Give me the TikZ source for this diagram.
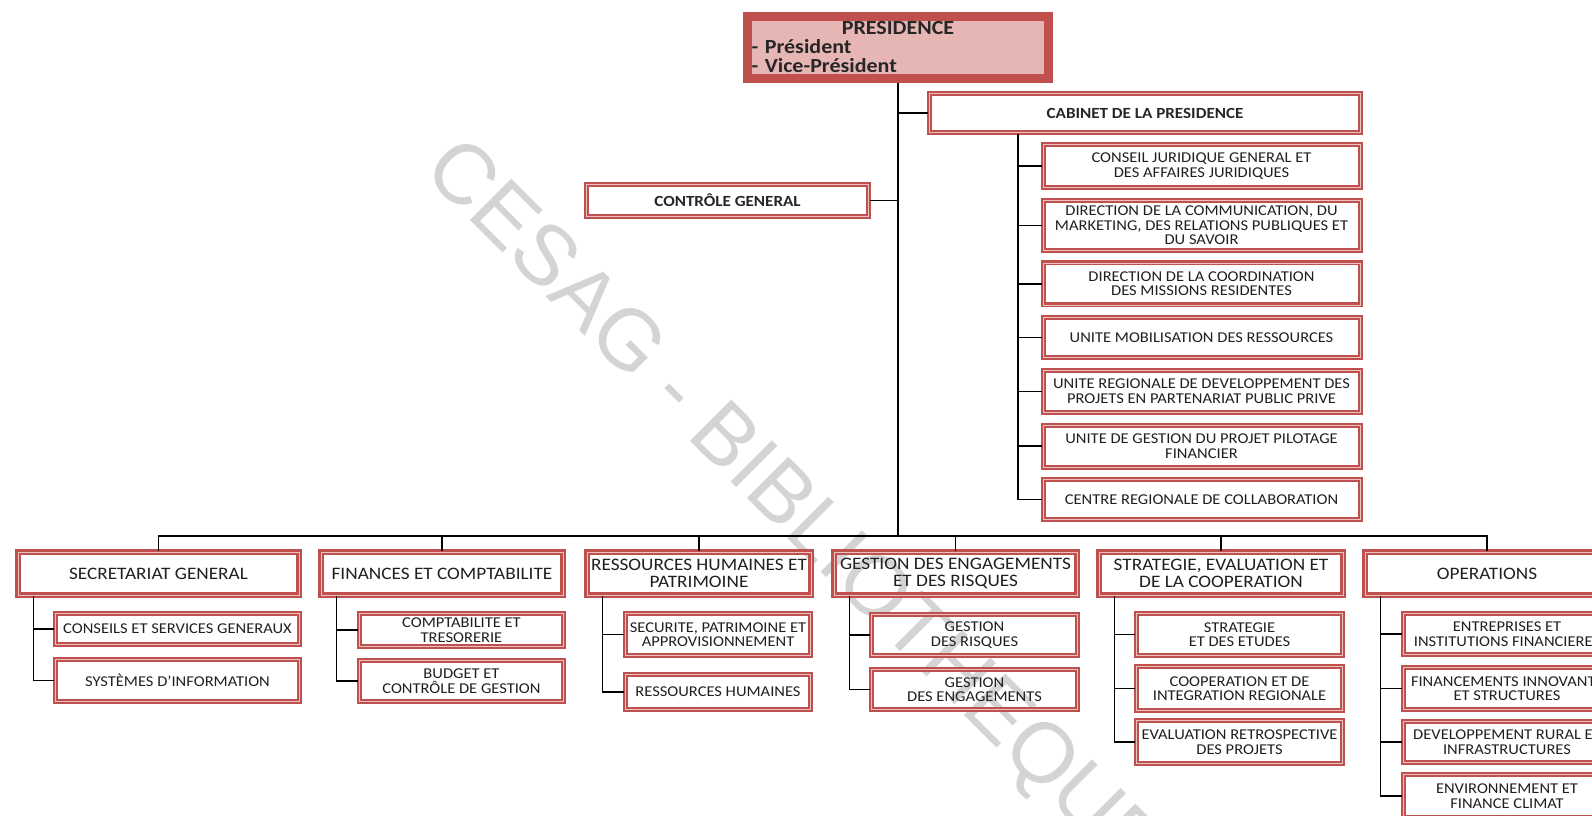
\documentclass[tikz,border=0pt]{standalone}
\usepackage{fontspec}
\setmainfont[FakeStretch=1.1]{Carlito}
\newfontfamily\wmfont{Liberation Sans}
\usetikzlibrary{positioning}
\definecolor{bred}{RGB}{192,80,77}
\definecolor{bpink}{RGB}{230,182,180}
\definecolor{wgray}{RGB}{212,212,212}

\begin{document}
\begin{tikzpicture}[x=1pt, y=-1pt,
  node distance=10.5pt,
  head/.style={draw=bred, line width=9pt, fill=bpink, inner sep=4pt, text width=293pt, align=left, minimum width=301pt, minimum height=62pt, font=\bfseries\fontsize{20}{19}\selectfont, text=black!85},
  title/.style={draw=bred, line width=2.2pt, double=bred!35!white, double distance=0.6pt, align=center, inner sep=2pt, font=\bfseries\fontsize{15.5}{15}\selectfont, text=black!85},
  unit/.style={draw=bred, line width=2.9pt, double=bred!35!white, double distance=0.6pt, align=center, inner sep=2pt, minimum height=43pt, font=\fontsize{17.5}{17}\selectfont, text=black!88},
  sub/.style={draw=bred, line width=2.2pt, double=bred!35!white, double distance=0.6pt, align=center, inner sep=2pt, font=\fontsize{15}{14.5}\selectfont, text=black!88},
  cabsub/.style={sub, minimum width=317pt, minimum height=42pt},
  link/.style={line width=1.2pt},
  wmark/.style={text=wgray, inner sep=0pt, font=\wmfont\fontsize{85}{85}\selectfont}]
\useasboundingbox (0,0) rectangle (1592,815);
\clip (0,0) rectangle (1592,815);
% watermark
\node[wmark, rotate=-45, anchor=west] (wm) at (437,157) {CESAG - BIBLIOTHEQUE};
% presidency and cabinet
\node[head] (pres) at (898,47.5) {\makebox[\linewidth]{PRESIDENCE}\\- Président\\- Vice-Président};
\node[title, minimum width=431pt, minimum height=39pt] (cab) at (1145,113) {CABINET DE LA PRESIDENCE};
\node[title, minimum width=282pt, minimum height=32pt] (ctrl) at (727.5,200.5) {CONTRÔLE GENERAL};
\node[cabsub, minimum height=43pt] (cb1) at (1201.5,166) {CONSEIL JURIDIQUE GENERAL ET\\DES AFFAIRES JURIDIQUES};
\node[cabsub, minimum height=50pt, below=of cb1] (cb2) {DIRECTION DE LA COMMUNICATION, DU\\MARKETING, DES RELATIONS PUBLIQUES ET\\DU SAVOIR};
\node[cabsub, below=of cb2] (cb3) {DIRECTION DE LA COORDINATION\\DES MISSIONS RESIDENTES};
\node[cabsub, minimum height=40pt, below=of cb3] (cb4) {UNITE MOBILISATION DES RESSOURCES};
\node[cabsub, below=of cb4] (cb5) {UNITE REGIONALE DE DEVELOPPEMENT DES\\PROJETS EN PARTENARIAT PUBLIC PRIVE};
\node[cabsub, below=of cb5] (cb6) {UNITE DE GESTION DU PROJET PILOTAGE\\FINANCIER};
\node[cabsub, minimum height=40pt, below=of cb6] (cb7) {CENTRE REGIONALE DE COLLABORATION};
% departments
\node[unit, minimum width=280.6pt] (sg) at (158.5,573.5) {SECRETARIAT GENERAL};
\node[unit, minimum width=241.6pt] (fin) at (442,573.5) {FINANCES ET COMPTABILITE};
\node[unit, minimum width=223.6pt] (rh) at (699,573.5) {RESSOURCES HUMAINES ET\\PATRIMOINE};
\node[unit, minimum width=242.6pt] (ges) at (955.5,573.5) {GESTION DES ENGAGEMENTS\\ET DES RISQUES};
\node[unit, minimum width=243.6pt] (strat) at (1221,573.5) {STRATEGIE, EVALUATION ET\\DE LA COOPERATION};
\node[unit, minimum width=243.6pt] (ops) at (1487,573.5) {OPERATIONS};
% services
\node[sub, minimum width=244pt, minimum height=31pt] (sg1) at (177.5,629) {CONSEILS ET SERVICES GENERAUX};
\node[sub, minimum width=244pt, minimum height=42pt] (sg2) at (177.5,680.5) {SYSTÈMES D'INFORMATION};
\node[sub, minimum width=204pt, minimum height=33pt] (fin1) at (461.5,630) {COMPTABILITE ET\\TRESORERIE};
\node[sub, minimum width=204pt, minimum height=41pt] (fin2) at (461.5,681) {BUDGET ET\\CONTRÔLE DE GESTION};
\node[sub, minimum width=185pt, minimum height=42pt] (rh1) at (718,634.5) {SECURITE, PATRIMOINE ET\\APPROVISIONNEMENT};
\node[sub, minimum width=185pt, minimum height=35pt] (rh2) at (718,692) {RESSOURCES HUMAINES};
\node[sub, minimum width=206pt, minimum height=41pt] (ges1) at (974.5,635) {GESTION\\DES RISQUES};
\node[sub, minimum width=206pt, minimum height=40pt] (ges2) at (974.5,689.5) {GESTION\\DES ENGAGEMENTS};
\node[sub, minimum width=206pt, minimum height=42pt] (strat1) at (1239.5,634.5) {STRATEGIE\\ET DES ETUDES};
\node[sub, minimum width=206pt, minimum height=44pt] (strat2) at (1239.5,688.5) {COOPERATION ET DE\\INTEGRATION REGIONALE};
\node[sub, minimum width=206pt, minimum height=43pt] (strat3) at (1239.5,742) {EVALUATION RETROSPECTIVE\\DES PROJETS};
\node[sub, minimum width=207pt, minimum height=41pt] (ops1) at (1507,634) {ENTREPRISES ET\\INSTITUTIONS FINANCIERES};
\node[sub, minimum width=207pt, minimum height=42pt] (ops2) at (1507,688.5) {FINANCEMENTS INNOVANTS\\ET STRUCTURES};
\node[sub, minimum width=207pt, minimum height=41pt] (ops3) at (1507,742) {DEVELOPPEMENT RURAL ET\\INFRASTRUCTURES};
\node[sub, minimum width=207pt, minimum height=43pt] (ops4) at (1507,796) {ENVIRONNEMENT ET\\FINANCE CLIMAT};
% connectors
\coordinate (bus) at (898,536);
\draw[link] (pres.south) -- (bus);
\draw[link] (cab.west) -- (cab.west -| pres.south);
\draw[link] (ctrl.east) -- (ctrl.east -| pres.south);
\foreach \i in {1,...,7} \draw[link] ([xshift=89.5pt]cab.south west) |- (cb\i.west);
\foreach \a in {sg,fin,rh,ges,strat,ops} \draw[link] (bus) -| (\a.north);
\foreach \a/\b in {sg/sg1,sg/sg2,fin/fin1,fin/fin2,rh/rh1,rh/rh2,ges/ges1,ges/ges2,strat/strat1,strat/strat2,strat/strat3,ops/ops1,ops/ops2,ops/ops3,ops/ops4} \draw[link] ([xshift=17pt]\a.south west) |- (\b.west);
\end{tikzpicture}
\end{document}
